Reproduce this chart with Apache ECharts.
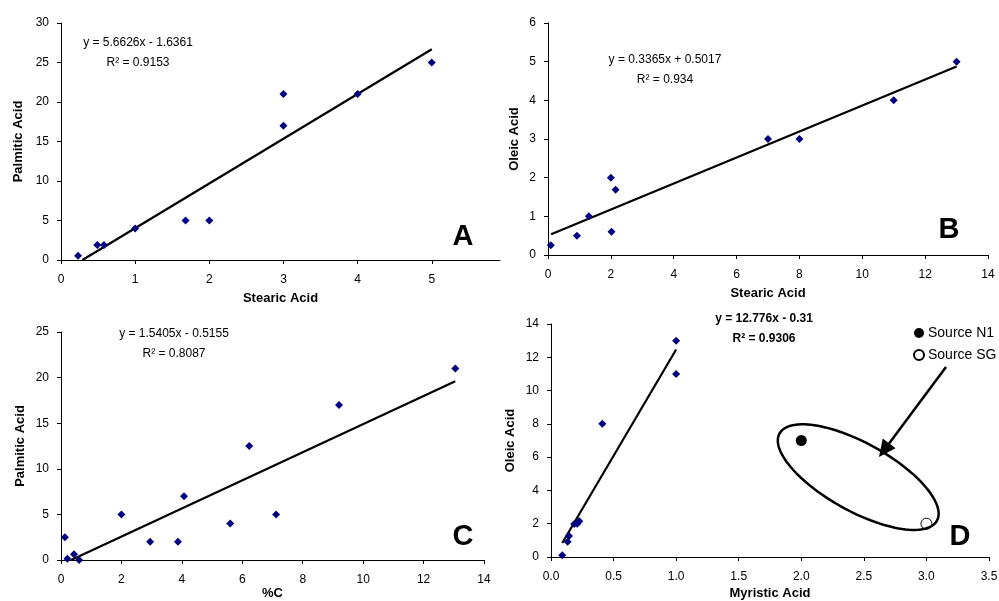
<!DOCTYPE html>
<html><head><meta charset="utf-8">
<script src="https://cdn.jsdelivr.net/npm/echarts@6/dist/echarts.min.js"></script>
<style>html,body{margin:0;padding:0;background:#fff}#c{width:999px;height:601px}</style>
</head><body><div id="c"></div>
<script>
// Panel A: Stearic vs Palmitic
const aStearic = [0.23, 0.49, 0.58, 1.0, 1.68, 2.0, 3.0, 3.0, 4.0, 5.0];
const aPalmitic = [0.55, 1.9, 1.9, 4.0, 5.0, 5.0, 21.0, 17.0, 21.0, 25.0];
const aTrend = [[0.289, 0], [5.0, 26.68]];
// Panel B: Stearic vs Oleic
const bStearic = [0.09, 0.92, 1.3, 2.0, 2.15, 2.02, 7.0, 8.0, 11.0, 13.0];
const bOleic = [0.25, 0.5, 1.0, 2.0, 1.69, 0.6, 3.0, 3.0, 4.0, 5.0];
const bTrend = [[0.1, 0.535], [13.0, 4.876]];
// Panel C: %C vs Palmitic
const cPercentC = [0.13, 0.21, 0.43, 0.6, 2.0, 2.95, 3.87, 4.07, 5.6, 6.23, 7.12, 9.2, 13.05];
const cPalmitic = [2.5, 0.15, 0.63, 0.0, 5.0, 2.0, 2.0, 7.0, 4.0, 12.5, 5.0, 17.0, 21.0];
const cTrend = [[0.335, 0], [13.05, 19.59]];
// Panel D: Myristic vs Oleic
const dMyristic = [0.09, 0.133, 0.144, 0.186, 0.21, 0.226, 0.41, 1.0, 1.0];
const dOleic = [0.1, 0.92, 1.26, 1.98, 2.0, 2.15, 8.0, 13.0, 11.0];
const dTrend = [[0.09, 0.84], [1.0, 12.47]];
const sourceN1 = [[2.0, 7.0]];
const sourceSG = [[3.0, 2.0]];
const ellipseCenter = [2.455, 4.8];

const eqA = ['y = 5.6626x - 1.6361', 'R² = 0.9153'];
const eqB = ['y = 0.3365x + 0.5017', 'R² = 0.934'];
const eqC = ['y = 1.5405x - 0.5155', 'R² = 0.8087'];
const eqD = ['y = 12.776x - 0.31', 'R² = 0.9306'];
const panelLetters = ['A', 'B', 'C', 'D'];

const aXTicks = [0, 1, 2, 3, 4, 5];

const FONT = 'Liberation Sans, Arial, sans-serif';
const zip = (xs, ys) => xs.map((x, i) => [x, ys[i]]);

function xAxis(gi, min, max, interval, name, extra) {
  return Object.assign({
    gridIndex: gi, type: 'value', min, max, interval, name,
    nameLocation: 'middle', nameGap: 32,
    nameTextStyle: {fontFamily: FONT, fontWeight: 'bold', fontSize: 13, color: '#000'},
    axisLine: {show: true, onZero: false, lineStyle: {color: '#000', width: 1}},
    axisTick: {show: true, inside: false, length: 4, lineStyle: {color: '#000'}},
    axisLabel: {fontFamily: FONT, fontSize: 12, color: '#000', margin: 14},
    splitLine: {show: false}
  }, extra || {});
}
function yAxis(gi, min, max, interval, name, gap) {
  return {
    gridIndex: gi, type: 'value', min, max, interval, name,
    nameLocation: 'middle', nameGap: gap,
    nameTextStyle: {fontFamily: FONT, fontWeight: 'bold', fontSize: 13, color: '#000'},
    axisLine: {show: true, onZero: false, lineStyle: {color: '#000', width: 1}},
    axisTick: {show: true, inside: false, length: 4, lineStyle: {color: '#000'}},
    axisLabel: {fontFamily: FONT, fontSize: 12, color: '#000', margin: 12},
    splitLine: {show: false}
  };
}
const diamond = (gi, data) => ({
  type: 'scatter', xAxisIndex: gi, yAxisIndex: gi, data, symbol: 'diamond', symbolSize: 8,
  itemStyle: {color: '#000080', opacity: 1}, z: 3, silent: true
});
const trend = (gi, data) => ({
  type: 'line', xAxisIndex: gi, yAxisIndex: gi, data, symbol: 'none',
  lineStyle: {color: '#000', width: 2.2}, z: 2, silent: true
});

const chart = echarts.init(document.getElementById('c'), null, {renderer: 'canvas'});

const G = {outerBoundsMode: 'none', containLabel: false};
const option = {
  animation: false,
  backgroundColor: '#fff',
  grid: [
    Object.assign({left: 61, top: 23, width: 439, height: 237}, G),
    Object.assign({left: 548, top: 23, width: 440, height: 232}, G),
    Object.assign({left: 61, top: 332, width: 423, height: 228}, G),
    Object.assign({left: 551, top: 324, width: 438, height: 233}, G)
  ],
  xAxis: [
    xAxis(0, 0, 5.92, 1, 'Stearic Acid', {
      axisTick: {show: true, length: 4, lineStyle: {color: '#000'}, customValues: aXTicks},
      axisLabel: {fontFamily: FONT, fontSize: 12, color: '#000', margin: 14, customValues: aXTicks}
    }),
    xAxis(1, 0, 14, 2, 'Stearic Acid'),
    xAxis(2, 0, 14, 2, '%C', {nameGap: 27}),
    xAxis(3, 0, 3.5, 0.5, 'Myristic Acid', {
      nameGap: 30,
      axisLabel: {fontFamily: FONT, fontSize: 12, color: '#000', margin: 14, formatter: v => v.toFixed(1)}
    })
  ],
  yAxis: [
    yAxis(0, 0, 30, 5, 'Palmitic Acid', 36),
    yAxis(1, 0, 6, 1, 'Oleic Acid', 27),
    yAxis(2, 0, 25, 5, 'Palmitic Acid', 34),
    yAxis(3, 0, 14, 2, 'Oleic Acid', 34)
  ],
  legend: {
    show: true, orient: 'vertical', left: 908, top: 321,
    data: ['Source N1', 'Source SG'], icon: 'circle',
    itemWidth: 10, itemHeight: 10, itemGap: 8,
    textStyle: {fontFamily: FONT, fontSize: 14, color: '#000', padding: [0, 0, 0, -1]},
    selectedMode: false
  },
  series: [
    diamond(0, zip(aStearic, aPalmitic)), trend(0, aTrend),
    diamond(1, zip(bStearic, bOleic)), trend(1, bTrend),
    diamond(2, zip(cPercentC, cPalmitic)), trend(2, cTrend),
    diamond(3, zip(dMyristic, dOleic)), trend(3, dTrend),
    {name: 'Source N1', type: 'scatter', xAxisIndex: 3, yAxisIndex: 3, data: sourceN1,
      symbol: 'circle', symbolSize: 11, itemStyle: {color: '#000', opacity: 1}, z: 4},
    {name: 'Source SG', type: 'scatter', xAxisIndex: 3, yAxisIndex: 3, data: sourceSG,
      symbol: 'circle', symbolSize: 11, itemStyle: {color: '#fff', borderColor: '#000', borderWidth: 1, opacity: 1}, z: 4}
  ]
};
chart.setOption(option);

function eqText(x, y, lines, bold) {
  return [0, 1].map(i => ({
    type: 'text', x, y: y + i * 20,
    style: {text: lines[i], fontFamily: FONT, fontSize: 12, fontWeight: bold ? 'bold' : 'normal',
      fill: '#000', textAlign: 'center', textVerticalAlign: 'middle'}
  }));
}
function letter(x, y, t) {
  return {type: 'text', x, y, style: {text: t, fontFamily: FONT, fontSize: 29, fontWeight: 'bold',
    fill: '#000', textAlign: 'center', textVerticalAlign: 'middle'}};
}
// annotation ellipse (pixel geometry around data-anchored centre)
const ec = chart.convertToPixel({gridIndex: 3}, ellipseCenter);
const ang = 29 * Math.PI / 180, ea = 90, eb = 34;
const ellPts = [];
for (let k = 0; k < 120; k++) {
  const t = k / 120 * 2 * Math.PI;
  const px = ea * Math.cos(t), py = eb * Math.sin(t);
  ellPts.push([ec[0] + px * Math.cos(ang) - py * Math.sin(ang), ec[1] + px * Math.sin(ang) + py * Math.cos(ang)]);
}
const tip = [879, 457];
const dx = tip[0] - 946, dy = tip[1] - 367;
const L = Math.hypot(dx, dy), ux = dx / L, uy = dy / L;
const hl = 17, hw = 8;
const bx = tip[0] - hl * ux, by = tip[1] - hl * uy;

chart.setOption({
  graphic: [
    ...eqText(138, 43, eqA, false),
    ...eqText(665, 60, eqB, false),
    ...eqText(174, 334, eqC, false),
    ...eqText(764, 319, eqD, true),
    letter(463, 237, panelLetters[0]),
    letter(949, 230, panelLetters[1]),
    letter(463, 537, panelLetters[2]),
    letter(960, 537, panelLetters[3]),
    {type: 'polygon', shape: {points: ellPts},
      style: {fill: 'none', stroke: '#000', lineWidth: 2.5}, z: 5},
    {type: 'line', shape: {x1: 946, y1: 367, x2: bx + 2 * ux, y2: by + 2 * uy},
      style: {stroke: '#000', lineWidth: 2.5}, z: 5},
    {type: 'polygon', shape: {points: [tip, [bx + hw * -uy, by + hw * ux], [bx - hw * -uy, by - hw * ux]]},
      style: {fill: '#000'}, z: 5}
  ]
});
</script></body></html>
